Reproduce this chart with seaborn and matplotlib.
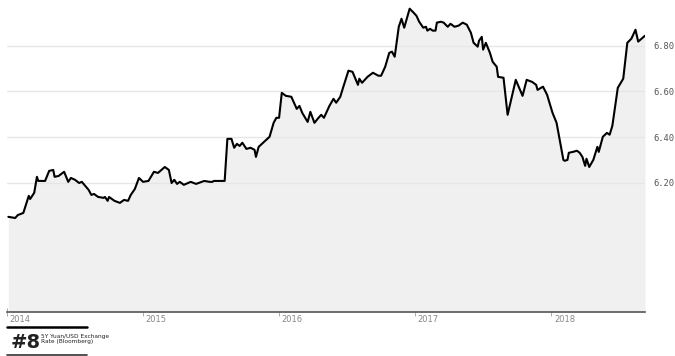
import matplotlib.pyplot as plt
import matplotlib.transforms as mtransforms
import pandas as pd
import seaborn as sns

# decimal years and USD/CNY rate
years = [2014.01, 2014.06, 2014.08, 2014.12, 2014.16, 2014.17, 2014.20, 2014.22, 2014.23, 2014.28,
         2014.31, 2014.34, 2014.35, 2014.38, 2014.42, 2014.45, 2014.47, 2014.50, 2014.53, 2014.55,
         2014.60, 2014.62, 2014.64, 2014.67, 2014.71, 2014.72, 2014.74, 2014.75, 2014.79, 2014.83,
         2014.86, 2014.89, 2014.91, 2014.94, 2014.97, 2015.00, 2015.04, 2015.08, 2015.11, 2015.16,
         2015.19, 2015.21, 2015.23, 2015.25, 2015.27, 2015.30, 2015.35, 2015.39, 2015.45, 2015.49,
         2015.51, 2015.52, 2015.60, 2015.62, 2015.65, 2015.67, 2015.69, 2015.71, 2015.73, 2015.76,
         2015.79, 2015.82, 2015.83, 2015.85, 2015.89, 2015.93, 2015.96, 2015.98, 2016.00, 2016.02,
         2016.05, 2016.09, 2016.11, 2016.13, 2016.15, 2016.17, 2016.21, 2016.23, 2016.26, 2016.29,
         2016.31, 2016.33, 2016.37, 2016.40, 2016.42, 2016.45, 2016.47, 2016.51, 2016.54, 2016.58,
         2016.59, 2016.61, 2016.65, 2016.69, 2016.73, 2016.75, 2016.78, 2016.81, 2016.83, 2016.85,
         2016.88, 2016.90, 2016.92, 2016.96, 2016.99, 2017.01, 2017.03, 2017.06, 2017.08, 2017.09,
         2017.11, 2017.13, 2017.15, 2017.16, 2017.19, 2017.21, 2017.24, 2017.26, 2017.29, 2017.32,
         2017.35, 2017.38, 2017.41, 2017.43, 2017.46, 2017.47, 2017.49, 2017.50, 2017.52, 2017.55,
         2017.57, 2017.60, 2017.61, 2017.65, 2017.68, 2017.74, 2017.79, 2017.82, 2017.86, 2017.89,
         2017.90, 2017.94, 2017.97, 2018.01, 2018.04, 2018.09, 2018.10, 2018.12, 2018.13, 2018.16,
         2018.19, 2018.21, 2018.23, 2018.25, 2018.26, 2018.28, 2018.31, 2018.34, 2018.35, 2018.38,
         2018.41, 2018.43, 2018.45, 2018.49, 2018.53, 2018.56, 2018.59, 2018.62, 2018.64, 2018.69]
rate = [6.052, 6.047, 6.060, 6.069, 6.144, 6.130, 6.157, 6.227, 6.209, 6.209,
        6.253, 6.257, 6.227, 6.231, 6.249, 6.205, 6.222, 6.214, 6.200, 6.205,
        6.170, 6.148, 6.152, 6.139, 6.135, 6.139, 6.122, 6.139, 6.122, 6.113,
        6.126, 6.122, 6.148, 6.174, 6.222, 6.205, 6.209, 6.249, 6.244, 6.270,
        6.257, 6.200, 6.214, 6.196, 6.205, 6.192, 6.205, 6.196, 6.209, 6.205,
        6.205, 6.209, 6.209, 6.393, 6.393, 6.354, 6.371, 6.362, 6.376, 6.349,
        6.354, 6.345, 6.314, 6.358, 6.380, 6.402, 6.463, 6.485, 6.485, 6.594,
        6.581, 6.577, 6.551, 6.524, 6.537, 6.507, 6.467, 6.511, 6.463, 6.485,
        6.498, 6.485, 6.537, 6.568, 6.551, 6.577, 6.616, 6.691, 6.686, 6.629,
        6.656, 6.638, 6.664, 6.682, 6.669, 6.669, 6.708, 6.769, 6.774, 6.752,
        6.883, 6.918, 6.879, 6.962, 6.944, 6.931, 6.905, 6.879, 6.883, 6.866,
        6.874, 6.866, 6.866, 6.901, 6.905, 6.901, 6.883, 6.896, 6.883, 6.888,
        6.901, 6.892, 6.857, 6.813, 6.796, 6.822, 6.839, 6.783, 6.813, 6.769,
        6.730, 6.708, 6.664, 6.660, 6.498, 6.651, 6.581, 6.651, 6.642, 6.629,
        6.607, 6.621, 6.586, 6.507, 6.463, 6.301, 6.297, 6.301, 6.332, 6.336,
        6.341, 6.332, 6.314, 6.275, 6.306, 6.270, 6.301, 6.358, 6.336, 6.402,
        6.419, 6.411, 6.450, 6.616, 6.656, 6.813, 6.831, 6.870, 6.818, 6.844]

year_ticks = [2014, 2015, 2016, 2017, 2018]
year_labels = ["2014", "2015", "2016", "2017", "2018"]
rate_ticks = [6.20, 6.40, 6.60, 6.80]
rate_labels = ["6.20", "6.40", "6.60", "6.80"]

df = pd.DataFrame({"year": years, "rate": rate})

sns.set_style("white")
fig = plt.figure(figsize=(6.75, 3.56), dpi=100, facecolor="w")
ax = fig.add_axes([7 / 675, 44 / 356, 638 / 675, 312 / 356])

ymin = 5.636
ax.fill_between(df["year"], df["rate"], ymin, color="#f0f0f0", lw=0, zorder=1)
sns.lineplot(data=df, x="year", y="rate", color="black", lw=1.5, ax=ax, zorder=3)

ax.set_xlim(2014.013, 2018.69)
ax.set_ylim(ymin, 7.0)

for t in rate_ticks:
    ax.axhline(t, color="#e6e6e6", lw=1, zorder=2)

ax.yaxis.tick_right()
ax.set_yticks(rate_ticks)
ax.set_yticklabels(rate_labels, family="DejaVu Sans Mono", fontsize=6.3, color="#555555")
ax.tick_params(axis="y", length=0, pad=6)

ax.set_xticks(year_ticks)
ax.set_xticklabels(year_labels, fontsize=6, color="#888888", ha="left")
ax.tick_params(axis="x", bottom=True, length=6, width=0.7, color="#aaaaaa",
               direction="inout", pad=-1)
offset = mtransforms.ScaledTranslation(2 / 72, 0, fig.dpi_scale_trans)
for lab in ax.get_xticklabels():
    lab.set_transform(lab.get_transform() + offset)

ax.set_xlabel("")
ax.set_ylabel("")
for side in ["top", "right", "left"]:
    ax.spines[side].set_visible(False)
ax.spines["bottom"].set_color("#555555")
ax.spines["bottom"].set_linewidth(1.2)
ax.spines["bottom"].set_zorder(4)

# footer label
fig.add_artist(plt.Line2D([7 / 675, 87 / 675], [1 - 327 / 356] * 2, color="black", lw=1.8))
fig.add_artist(plt.Line2D([7 / 675, 87 / 675], [1 - 355 / 356] * 2, color="#333333", lw=1.2))
fig.text(11 / 675, 1 - 343 / 356, "#8", fontsize=14, fontweight="bold", va="center",
         color="#222222")
fig.text(41 / 675, 1 - 339 / 356, "5Y Yuan/USD Exchange\nRate (Bloomberg)", fontsize=4.2,
         va="center", linespacing=1.1, color="#222222")

plt.savefig("out.png", dpi=100, facecolor="w")
